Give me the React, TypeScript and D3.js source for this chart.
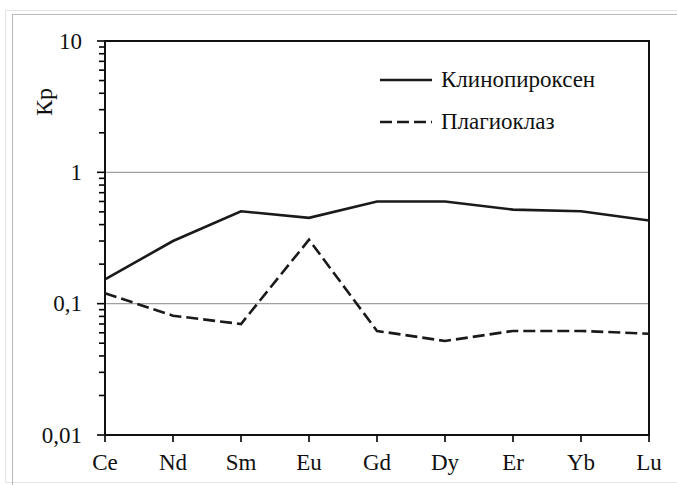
import React from 'react';
import * as d3 from 'd3';

// REE partition coefficients
const elements = ['Ce', 'Nd', 'Sm', 'Eu', 'Gd', 'Dy', 'Er', 'Yb', 'Lu'];
const clinopyroxene = [0.153, 0.3, 0.505, 0.45, 0.6, 0.6, 0.52, 0.505, 0.43];
const plagioclase = [0.12, 0.081, 0.07, 0.307, 0.062, 0.052, 0.062, 0.062, 0.059];
const yTicks = [0.01, 0.1, 1, 10];
const yTickLabels = ['0,01', '0,1', '1', '10'];
const gridValues = [0.1, 1];
const seriesNames = ['Клинопироксен', 'Плагиоклаз'];

const width = 677;
const height = 485;
const margin = { top: 41, right: 28, bottom: 50, left: 105 };
const font = "'Liberation Serif', 'Times New Roman', serif";
const ink = '#1a1a1a';

const x = d3.scalePoint()
  .domain(elements)
  .range([margin.left, width - margin.right])
  .padding(0);

const y = d3.scaleLog()
  .domain([0.01, 10])
  .range([height - margin.bottom, margin.top]);

const minorTicks: number[] = [];
for (let e = -2; e < 1; e++) {
  for (let m = 2; m <= 9; m++) minorTicks.push(m * Math.pow(10, e));
}

const line = d3.line<number>()
  .x((d, i) => x(elements[i]) as number)
  .y(d => y(d));

const Label = (props: any) => (
  <text fill="#111" className="lbl" style={{ fontFamily: font }} {...props} />
);

const App = () => {
  const bottom = height - margin.bottom;
  const right = width - margin.right;
  return (
    <svg
      width={width}
      height={height}
      style={{ position: 'absolute', left: 0, top: 0, background: '#fff' }}
    >
      <style>{`text.lbl { font-family: ${font}; }`}</style>

      {/* outer frame */}
      <rect x={5.5} y={10.5} width={width} height={472} fill="none" stroke="#e4e4e4" />
      <rect x={12.5} y={14.5} width={width} height={500} fill="none" stroke="#b8b8b8" />

      {/* gridlines */}
      {gridValues.map(v => (
        <line key={v} x1={margin.left} x2={right} y1={y(v)} y2={y(v)} stroke="#a0a0a0" strokeWidth={1.2} />
      ))}

      {/* y axis ticks */}
      {minorTicks.map(v => (
        <line key={v} x1={margin.left - 6} x2={margin.left} y1={y(v)} y2={y(v)} stroke="#000" strokeWidth={1.6} />
      ))}
      {yTicks.map((v, i) => (
        <g key={v} transform={`translate(${margin.left},${y(v)})`}>
          <line x1={-8} x2={0} stroke="#000" strokeWidth={1.6} />
          <Label x={-23} dy="0.34em" textAnchor="end" fontSize={23}>
            {yTickLabels[i]}
          </Label>
        </g>
      ))}

      {/* x axis ticks */}
      {elements.map(el => (
        <g key={el} transform={`translate(${x(el)},${bottom})`}>
          <line y1={0} y2={7} stroke="#000" strokeWidth={1.6} />
          <Label y={35} textAnchor="middle" fontSize={23}>
            {el}
          </Label>
        </g>
      ))}

      {/* plot box */}
      <rect
        x={margin.left}
        y={margin.top}
        width={right - margin.left}
        height={bottom - margin.top}
        fill="none"
        stroke="#111"
        strokeWidth={2}
      />

      {/* series */}
      <path d={line(clinopyroxene) ?? ''} fill="none" stroke={ink} strokeWidth={2.6} />
      <path d={line(plagioclase) ?? ''} fill="none" stroke={ink} strokeWidth={2.6} strokeDasharray="12,5" />

      {/* y title */}
      <Label transform="translate(52,102) rotate(-90)" textAnchor="middle" fontSize={24}>
        Кр
      </Label>

      {/* legend */}
      {seriesNames.map((name, i) => {
        const ly = 80 + i * 42;
        return (
          <g key={name}>
            <line
              x1={380}
              x2={432}
              y1={ly}
              y2={ly}
              stroke={ink}
              strokeWidth={2.6}
              strokeDasharray={i === 1 ? '12,5' : undefined}
            />
            <Label x={441} y={ly + 7} fontSize={23}>
              {name}
            </Label>
          </g>
        );
      })}
    </svg>
  );
};

export default App;
